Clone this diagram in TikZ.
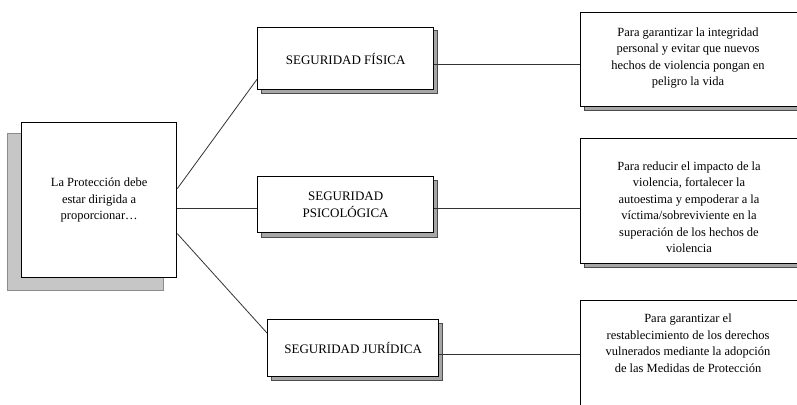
\documentclass[tikz,border=0pt]{standalone}
\usepackage{fontspec}
\setmainfont{Liberation Serif}
\begin{document}
\begin{tikzpicture}[x=1pt,y=-1pt,
  box/.style={draw=black, line width=1.3pt, fill=white, inner sep=0pt, anchor=north west, align=center, font=\fontsize{12.5}{16.5}\selectfont},
  capbox/.style={box, font=\fontsize{13}{17}\selectfont},
  bigshadow/.style={draw=gray!90, fill=gray!45, line width=1pt},
  shadow/.style={draw=gray!60!black, fill=gray!70, line width=1pt},
  txt/.style={align=center, inner sep=0pt, font=\fontsize{12.5}{16.5}\selectfont},
  conn/.style={draw=black!80, line width=0.8pt}]
\clip (0,0) rectangle (797,404);
\fill[white] (0,0) rectangle (797,404);
% shadows
\draw[bigshadow] (7,133) rectangle (163,290);
\draw[shadow] (261,31) rectangle (437,93);
\draw[shadow] (261,180) rectangle (437,237);
\draw[shadow] (271,323) rectangle (442,380);
\draw[shadow] (584,16) rectangle (810,110);
\draw[shadow] (584,142) rectangle (810,267);
\draw[shadow] (584,304) rectangle (810,420);
% boxes
\node[box, minimum width=155pt, minimum height=155pt] (L) at (21,122) {La Protección debe\\estar dirigida a\\proporcionar…};
\node[capbox, minimum width=176pt, minimum height=62pt] (A) at (257,27) {SEGURIDAD FÍSICA};
\node[capbox, minimum width=176pt, minimum height=56pt] (B) at (257,176) {SEGURIDAD\\PSICOLÓGICA};
\node[capbox, minimum width=171pt, minimum height=57pt] (C) at (267,319) {SEGURIDAD JURÍDICA};
\node[box, minimum width=220pt, minimum height=94pt] (RA) at (580,12) {};
\node[box, minimum width=220pt, minimum height=125pt] (RB) at (580,138) {};
\node[box, minimum width=220pt, minimum height=115pt] (RC) at (580,300) {};
% texts
\node[txt] (tA) at (688,58) {Para garantizar la integridad\\personal y evitar que nuevos\\hechos de violencia pongan en\\peligro la vida};
\node[txt] (tB) at (689,207) {Para reducir el impacto de la\\violencia, fortalecer la\\autoestima y empoderar a la\\víctima/sobreviviente en la\\superación de los hechos de\\violencia};
\node[txt] (tC) at (688,343) {Para garantizar el\\restablecimiento de los derechos\\vulnerados mediante la adopción\\de las Medidas de Protección};
% connectors
\draw[conn] ([yshift=11.5pt]L.east) -- ([yshift=11pt]A.south west);
\draw[conn] ([yshift=-8.5pt]L.east) -- ([yshift=-4pt]B.west);
\draw[conn] ([yshift=-33.5pt]L.east) -- ([yshift=-14pt]C.north west);
\draw[conn] ([yshift=-6pt]A.east) -- ([yshift=-5pt]RA.west);
\draw[conn] ([yshift=-4pt]B.east) -- ([yshift=-7.5pt]RB.west);
\draw[conn] ([yshift=-6.5pt]C.east) -- ([yshift=3.5pt]RC.west);
\end{tikzpicture}
\end{document}
